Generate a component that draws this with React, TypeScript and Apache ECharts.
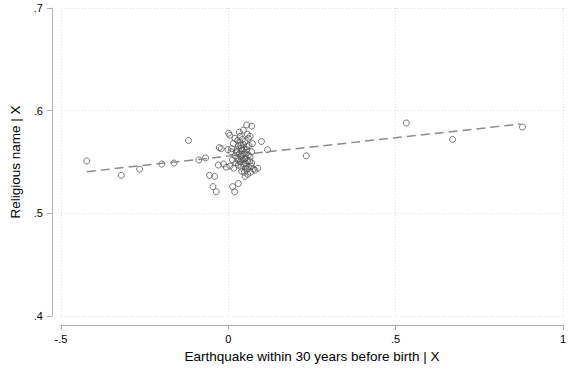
import React, { useEffect, useRef } from "react";
import * as echarts from "echarts";

const xTicks = [-0.5, 0, 0.5, 1];
const yTicks = [0.4, 0.5, 0.6, 0.7];

const outerX = [-0.423, -0.32, -0.265, -0.199, -0.162, -0.119, -0.088, -0.068, 0.099, 0.117, 0.233, 0.532, 0.67, 0.879];
const outerY = [0.551, 0.537, 0.543, 0.548, 0.549, 0.571, 0.552, 0.554, 0.570, 0.562, 0.556, 0.588, 0.572, 0.584];

const edgeX = [-0.027, -0.021, 0.001, 0.004, -0.001, 0.008, -0.03, -0.014, -0.006, -0.056, -0.041, -0.046, -0.036, 0.013, 0.019, 0.03, 0.05, 0.055, 0.07, 0.057, 0.065, 0.08, 0.088, 0.05];
const edgeY = [0.564, 0.563, 0.578, 0.576, 0.562, 0.56, 0.547, 0.548, 0.545, 0.537, 0.536, 0.526, 0.521, 0.526, 0.521, 0.529, 0.536, 0.586, 0.585, 0.577, 0.575, 0.542, 0.544, 0.544];

const coreX = [0.02, 0.028, 0.035, 0.042, 0.03, 0.038, 0.045, 0.025, 0.033, 0.04, 0.048, 0.055, 0.06, 0.052, 0.044, 0.036, 0.028, 0.02, 0.058, 0.065, 0.07, 0.062, 0.05, 0.015, 0.01, 0.046, 0.054, 0.038, 0.03, 0.022, 0.062, 0.07, 0.075, 0.04, 0.048, 0.058, 0.066, 0.012, 0.005, 0.016, 0.033, 0.045, 0.06, 0.072, 0.026, 0.041, 0.049, 0.035, 0.056, 0.043, 0.051, 0.039, 0.047, 0.031, 0.064, 0.053, 0.037, 0.024, 0.068, 0.057];
const coreY = [0.573, 0.571, 0.575, 0.572, 0.566, 0.563, 0.567, 0.56, 0.558, 0.556, 0.559, 0.562, 0.557, 0.554, 0.552, 0.55, 0.553, 0.556, 0.551, 0.555, 0.56, 0.566, 0.57, 0.568, 0.563, 0.548, 0.546, 0.545, 0.547, 0.549, 0.545, 0.549, 0.543, 0.541, 0.54, 0.538, 0.54, 0.552, 0.546, 0.544, 0.579, 0.581, 0.573, 0.568, 0.562, 0.561, 0.553, 0.569, 0.565, 0.557, 0.549, 0.553, 0.563, 0.551, 0.551, 0.558, 0.566, 0.559, 0.546, 0.543];

const fitX = [-0.423, 0.874];
const fitY = [0.5406, 0.587];

const fmt = (v: number) => {
  if (v === 0) return "0";
  const s = String(Math.round(v * 10) / 10);
  return s.replace(/^0\./, ".").replace(/^-0\./, "-.");
};

export default function App() {
  const ref = useRef<HTMLDivElement>(null);
  useEffect(() => {
    if (!ref.current) return;
    const chart = echarts.init(ref.current, null, { renderer: "svg" });
    const pts: number[][] = [];
    outerX.forEach((x, i) => pts.push([x, outerY[i]]));
    edgeX.forEach((x, i) => pts.push([x, edgeY[i]]));
    coreX.forEach((x, i) => pts.push([x, coreY[i]]));
    const font = "Liberation Sans, Arial, sans-serif";
    chart.setOption({
      animation: false,
      backgroundColor: "#fff",
      grid: { left: 59, right: 3, top: 8, bottom: 58 },
      xAxis: {
        type: "value",
        min: xTicks[0],
        max: xTicks[xTicks.length - 1],
        interval: 0.5,
        offset: 9,
        name: "Earthquake within 30 years before birth | X",
        nameLocation: "middle",
        nameGap: 24,
        nameTextStyle: { fontFamily: font, fontSize: 13.5, color: "#000" },
        axisLine: { show: true, onZero: false, lineStyle: { color: "#b0b0b0", width: 1 } },
        axisTick: { show: true, length: 5, lineStyle: { color: "#b0b0b0" } },
        axisLabel: { formatter: fmt, fontFamily: font, fontSize: 11, color: "#000", margin: 8 },
        splitLine: { show: true, lineStyle: { color: "#dcdcdc", type: [1, 2], width: 1 } },
      },
      yAxis: {
        type: "value",
        min: yTicks[0],
        max: yTicks[yTicks.length - 1],
        interval: 0.1,
        offset: 9,
        name: "Religious name | X",
        nameLocation: "middle",
        nameGap: 30,
        nameTextStyle: { fontFamily: font, fontSize: 13.5, color: "#000" },
        axisLine: { show: true, onZero: false, lineStyle: { color: "#b0b0b0", width: 1 } },
        axisTick: { show: true, length: 5, lineStyle: { color: "#b0b0b0" } },
        axisLabel: { formatter: fmt, fontFamily: font, fontSize: 11, color: "#000", margin: 9 },
        splitLine: { show: true, lineStyle: { color: "#dcdcdc", type: [1, 2], width: 1 } },
      },
      series: [
        {
          type: "scatter",
          data: pts,
          symbol: "circle",
          symbolSize: 6,
          itemStyle: { color: "rgba(255,255,255,0)", borderColor: "#555", borderWidth: 1 },
        },
        {
          type: "line",
          data: fitX.map((x, i) => [x, fitY[i]]),
          symbol: "none",
          lineStyle: { color: "#8c8c8c", width: 1.5, type: [9, 5] },
        },
      ],
    });
    return () => chart.dispose();
  }, []);
  return <div ref={ref} style={{ position: "fixed", left: 0, top: 0, width: 569, height: 374 }} />;
}
